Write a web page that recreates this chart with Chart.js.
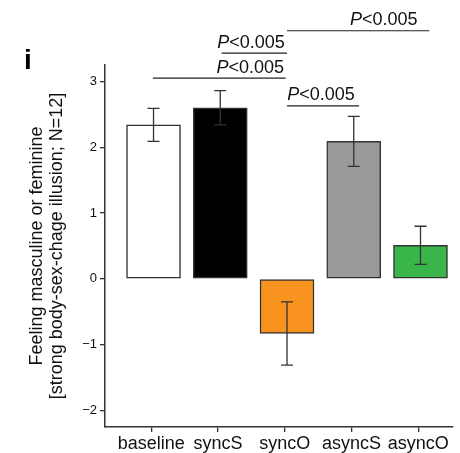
<!DOCTYPE html>
<html>
<head>
<meta charset="utf-8">
<script src="https://cdn.jsdelivr.net/npm/chart.js@4.4.1/dist/chart.umd.min.js"></script>
<style>
  body { margin: 0; background: #fff; }
  canvas { display: block; }
</style>
</head>
<body>
<canvas id="myChart" width="460" height="453"></canvas>
<script>
// data
const categories = ['baseline', 'syncS', 'syncO', 'asyncS', 'asyncO'];
const means = [2.34, 2.60, -0.83, 2.09, 0.51];
const errors = [0.25, 0.26, 0.48, 0.38, 0.29];
const yTicks = [-2, -1, 0, 1, 2, 3];

// significance brackets: from / to category position, height in y units
const sigFrom = [3.0, 2.02, 0.99, 3.0];
const sigTo = [5.13, 3.0, 2.98, 4.08];
const sigLevel = [3.77, 3.43, 3.05, 2.63];
const sigTextX = [4.45, 2.46, 2.45, 3.51];
const sigLabels = ['<0.005', '<0.005', '<0.005', '<0.005'];

const barColors = ['#ffffff', '#000000', '#f7931e', '#999999', '#39b54a'];
const FONT = "'Liberation Sans', Arial, sans-serif";
const TICK_SHIFT = 0.035; // the x ticks sit a touch left of the bar centres in the original

// error bars drawn over the bars
const errorBars = {
    id: 'errorBars',
    afterDatasetsDraw(chart) {
        const { ctx, scales: { x, y } } = chart;
        ctx.save();
        ctx.strokeStyle = '#333';
        ctx.lineWidth = 1.3;
        means.forEach((m, i) => {
            const px = x.getPixelForValue(i + 1);
            const top = y.getPixelForValue(m + errors[i]);
            const bot = y.getPixelForValue(m - errors[i]);
            ctx.beginPath();
            ctx.moveTo(px, top); ctx.lineTo(px, bot);
            ctx.moveTo(px - 6, top); ctx.lineTo(px + 6, top);
            ctx.moveTo(px - 6, bot); ctx.lineTo(px + 6, bot);
            ctx.stroke();
        });
        ctx.restore();
    }
};

// P-value brackets and panel letter
const annotations = {
    id: 'annotations',
    afterDraw(chart) {
        const { ctx, scales: { x, y } } = chart;
        ctx.save();
        ctx.strokeStyle = '#222';
        ctx.lineWidth = 1.2;
        ctx.fillStyle = '#111';
        ctx.textBaseline = 'alphabetic';
        sigFrom.forEach((f, i) => {
            const ly = y.getPixelForValue(sigLevel[i]);
            ctx.beginPath();
            ctx.moveTo(x.getPixelForValue(f), ly);
            ctx.lineTo(x.getPixelForValue(sigTo[i]), ly);
            ctx.stroke();

            // italic P followed by the rest
            ctx.font = 'italic 18px ' + FONT;
            const wP = ctx.measureText('P').width;
            ctx.font = '18px ' + FONT;
            const wRest = ctx.measureText(sigLabels[i]).width;
            let tx = x.getPixelForValue(sigTextX[i]) - (wP + wRest) / 2;
            const ty = ly - 5.5;
            ctx.textAlign = 'left';
            ctx.font = 'italic 18px ' + FONT;
            ctx.fillText('P', tx, ty);
            ctx.font = '18px ' + FONT;
            ctx.fillText(sigLabels[i], tx + wP, ty);
        });

        ctx.font = 'bold 28px ' + FONT;
        ctx.fillStyle = '#000';
        ctx.textAlign = 'left';
        ctx.fillText('i', 24, 69);
        ctx.restore();
    }
};

const ctx = document.getElementById('myChart').getContext('2d');
const myChart = new Chart(ctx, {
    type: 'bar',
    data: {
        datasets: [{
            data: categories.map((c, i) => ({ x: i + 1, y: means[i] })),
            backgroundColor: barColors,
            borderColor: '#333',
            borderWidth: 1.5,
            borderSkipped: false,
            barThickness: 54
        }]
    },
    options: {
        responsive: false,
        animation: false,
        layout: { padding: { top: 65, right: 7, left: 0, bottom: 0 } },
        plugins: {
            legend: { display: false },
            tooltip: { enabled: false }
        },
        scales: {
            x: {
                type: 'linear',
                min: 0.273,
                max: 5.487,
                offset: false,
                afterBuildTicks: (scale) => {
                    scale.ticks = categories.map((c, i) => ({ value: i + 1 - TICK_SHIFT }));
                },
                afterFit: (scale) => { scale.height = 26; },
                ticks: {
                    autoSkip: false,
                    maxRotation: 0,
                    padding: 1,
                    color: '#111',
                    font: { family: FONT, size: 18 },
                    callback: (v) => categories[Math.round(v) - 1]
                },
                grid: {
                    offset: false,
                    drawOnChartArea: false,
                    color: '#333',
                    lineWidth: 1.3,
                    tickLength: 5
                },
                border: { display: true, color: '#333', width: 1.5 }
            },
            y: {
                min: -2.25,
                max: 3.25,
                afterBuildTicks: (scale) => {
                    scale.ticks = yTicks.map(v => ({ value: v }));
                },
                afterFit: (scale) => { scale.width = 105; },
                ticks: {
                    padding: 3,
                    color: '#111',
                    font: { family: FONT, size: 13 },
                    callback: (v) => v < 0 ? '\u2212' + Math.abs(v) : String(v)
                },
                grid: {
                    drawOnChartArea: false,
                    color: '#333',
                    lineWidth: 1.3,
                    tickLength: 5
                },
                border: { display: true, color: '#333', width: 1.5 },
                title: {
                    display: true,
                    text: ['Feeling masculine or feminine', '[strong body-sex-chage illusion; N=12]'],
                    color: '#111',
                    font: { family: FONT, size: 18, lineHeight: 1.11 },
                    padding: { top: 27, bottom: 0 }
                }
            }
        }
    },
    plugins: [errorBars, annotations]
});
</script>
</body>
</html>
